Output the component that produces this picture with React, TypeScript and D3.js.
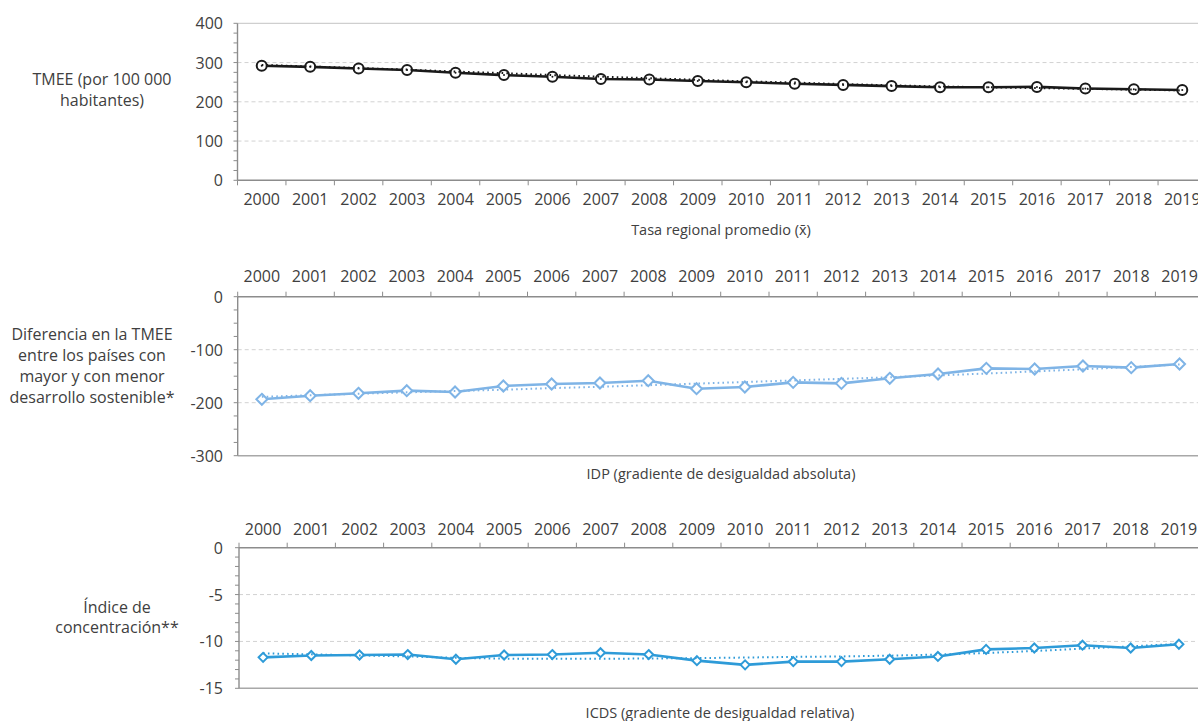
import React from 'react';
import * as d3 from 'd3';

const years = ['2000','2001','2002','2003','2004','2005','2006','2007','2008','2009','2010','2011','2012','2013','2014','2015','2016','2017','2018','2019'];

const tasaRegional = [292, 289, 285, 281, 274, 268, 264, 258, 257, 253, 250, 246, 243, 240, 237, 237, 238, 234, 232, 230];
const tasaTrend = [294, 290, 286, 282, 277, 273, 268, 264, 260, 256, 252, 249, 245, 242, 239, 237, 235, 233, 231, 229];

const idp = [-193.6, -186.8, -182.3, -177.3, -179.8, -168.5, -164.7, -162.8, -158.5, -173.6, -170.4, -161.6, -163.5, -154, -145.8, -135.2, -136.4, -130.8, -133.9, -127];
const idpTrend = [-189, -186, -183, -180.5, -178, -175.5, -172.5, -170, -167, -164, -161, -158, -155, -152, -148.5, -145, -141, -137, -132.5, -128];

const icds = [-11.7, -11.5, -11.45, -11.4, -11.9, -11.45, -11.4, -11.2, -11.4, -12.05, -12.5, -12.15, -12.15, -11.9, -11.6, -10.85, -10.7, -10.4, -10.7, -10.3];
const icdsTrend = [-11.27, -11.38, -11.49, -11.6, -11.75, -11.84, -11.86, -11.86, -11.82, -11.78, -11.72, -11.65, -11.6, -11.52, -11.4, -11.24, -11.02, -10.77, -10.52, -10.27];

const topTicks = [0, 100, 200, 300, 400];
const midTicks = [0, -100, -200, -300];
const botTicks = [0, -5, -10, -15];

const FONT = '"Open Sans", "Noto Sans", sans-serif';
const TEXT = '#404040';

type PanelProps = {
  left: number;
  step: number;
  domain: [number, number];
  range: [number, number];
  ticks: number[];
  minorStep: number;
  axisValue: number;
  borderValue: number;
  axisSide: 'top' | 'bottom';
  labelY: number;
  values: number[];
  trend: number[];
  color: string;
  marker: 'circle' | 'diamond';
  markerSize: number;
  title: string;
  titleX: number;
  titleY: number;
  label: string[];
  labelX: number;
  labelY0: number;
  labelDy: number;
};

function Panel(p: PanelProps) {
  const x = d3.scaleBand().domain(years).range([p.left, p.left + p.step * years.length]);
  const y = d3.scaleLinear().domain(p.domain).range(p.range);
  const cx = (d: string) => (x(d) as number) + x.bandwidth() / 2;
  const lineGen = d3.line<number>().x((_, i) => cx(years[i])).y((v) => y(v));
  const minor = d3.range(p.domain[0], p.domain[1] + 1e-9, p.minorStep);
  const axisY = y(p.axisValue);
  const tickDir = p.axisSide === 'bottom' ? 1 : -1;
  const boundaries = d3.range(0, years.length + 1).map((i) => p.left + i * p.step);
  const yTop = Math.min(...p.range);
  const yBot = Math.max(...p.range);
  const s = p.markerSize;
  return (
    <g>
      {p.ticks.filter((t) => t !== p.axisValue && t !== p.borderValue).map((t) => (
        <line key={'g' + t} x1={p.left} x2={1198} y1={y(t)} y2={y(t)} stroke="#d2d2d2" strokeWidth={1} strokeDasharray="4,3" />
      ))}
      <line x1={p.left} x2={1198} y1={y(p.borderValue)} y2={y(p.borderValue)} stroke={p.axisSide === 'bottom' ? '#cfcfcf' : '#a8a8a8'} strokeWidth={p.axisSide === 'bottom' ? 1.2 : 1.6} />
      <line x1={p.left} x2={p.left} y1={yTop} y2={yBot} stroke="#8c8c8c" strokeWidth={1.4} />
      {minor.map((t, i) => (
        <line key={'m' + i} x1={p.left - 4} x2={p.left} y1={y(t)} y2={y(t)} stroke="#8c8c8c" strokeWidth={1} />
      ))}
      {p.ticks.map((t) => (
        <text key={'yl' + t} x={223} y={y(t)} textAnchor="end" dominantBaseline="central" fontSize={16} fill={TEXT} fontFamily={FONT}>{t}</text>
      ))}
      <line x1={p.left} x2={1198} y1={axisY} y2={axisY} stroke="#8c8c8c" strokeWidth={1.4} />
      {boundaries.map((b, i) => (
        <line key={'xt' + i} x1={b} x2={b} y1={axisY} y2={axisY + tickDir * 5} stroke="#8c8c8c" strokeWidth={1} />
      ))}
      {years.map((yr) => (
        <text key={'xl' + yr} x={cx(yr)} y={p.labelY} textAnchor="middle" dominantBaseline="central" fontSize={16} fill={TEXT} fontFamily={FONT}>{yr}</text>
      ))}
      <path d={lineGen(p.values) || ''} fill="none" stroke={p.color} strokeWidth={2.6} strokeLinejoin="round" />
      {p.values.map((v, i) => {
        const px = cx(years[i]);
        const py = y(v);
        return p.marker === 'circle' ? (
          <circle key={'c' + i} cx={px} cy={py} r={s} fill="#fff" stroke={p.color} strokeWidth={2} />
        ) : (
          <path key={'d' + i} d={`M${px},${py - s}L${px + s},${py}L${px},${py + s}L${px - s},${py}Z`} fill="#fff" stroke={p.color} strokeWidth={2} />
        );
      })}
      <path d={lineGen(p.trend) || ''} fill="none" stroke={p.color} strokeWidth={2} strokeDasharray="1.6,3.2" />
      {p.marker === 'circle' && p.values.map((v, i) => (
        <circle key={'dot' + i} cx={cx(years[i])} cy={y(v)} r={1} fill={p.color} />
      ))}
      <text x={p.titleX} y={p.titleY} textAnchor="middle" dominantBaseline="central" fontSize={14.5} fill={TEXT} fontFamily={FONT}>{p.title}</text>
      {p.label.map((l, i) => (
        <text key={'lab' + i} x={p.labelX} y={p.labelY0 + i * p.labelDy} textAnchor="middle" dominantBaseline="central" fontSize={16} fill={TEXT} fontFamily={FONT}>{l}</text>
      ))}
    </g>
  );
}

export default function App() {
  return (
    <svg width={1198} height={721} style={{ position: 'absolute', left: 0, top: 0, background: '#fff' }} fontFamily={FONT}>
      <rect x={0} y={0} width={1198} height={721} fill="#fff" />
      <Panel
        left={237.5} step={48.45} domain={[0, 400]} range={[180.3, 23.3]} ticks={topTicks} minorStep={25}
        axisValue={0} borderValue={400} axisSide="bottom" labelY={199}
        values={tasaRegional} trend={tasaTrend} color="#1a1a1a" marker="circle" markerSize={5}
        title={'Tasa regional promedio (x\u0304)'} titleX={721} titleY={229}
        label={['TMEE (por 100 000', 'habitantes)']} labelX={102} labelY0={79} labelDy={21}
      />
      <Panel
        left={237.7} step={48.3} domain={[-300, 0]} range={[455.7, 296.7]} ticks={midTicks} minorStep={25}
        axisValue={0} borderValue={-300} axisSide="top" labelY={275.7}
        values={idp} trend={idpTrend} color="#7fb4e6" marker="diamond" markerSize={5.5}
        title="IDP (gradiente de desigualdad absoluta)" titleX={721} titleY={473}
        label={['Diferencia en la TMEE', 'entre los países con', 'mayor y con menor', 'desarrollo sostenible*']} labelX={92} labelY0={334.3} labelDy={20.8}
      />
      <Panel
        left={239} step={48.2} domain={[-15, 0]} range={[688.3, 547.7]} ticks={botTicks} minorStep={1}
        axisValue={0} borderValue={-15} axisSide="top" labelY={529}
        values={icds} trend={icdsTrend} color="#2e9bd8" marker="diamond" markerSize={4.5}
        title="ICDS (gradiente de desigualdad relativa)" titleX={720} titleY={712}
        label={['Índice de', 'concentración**']} labelX={117} labelY0={606.7} labelDy={20.6}
      />
    </svg>
  );
}
